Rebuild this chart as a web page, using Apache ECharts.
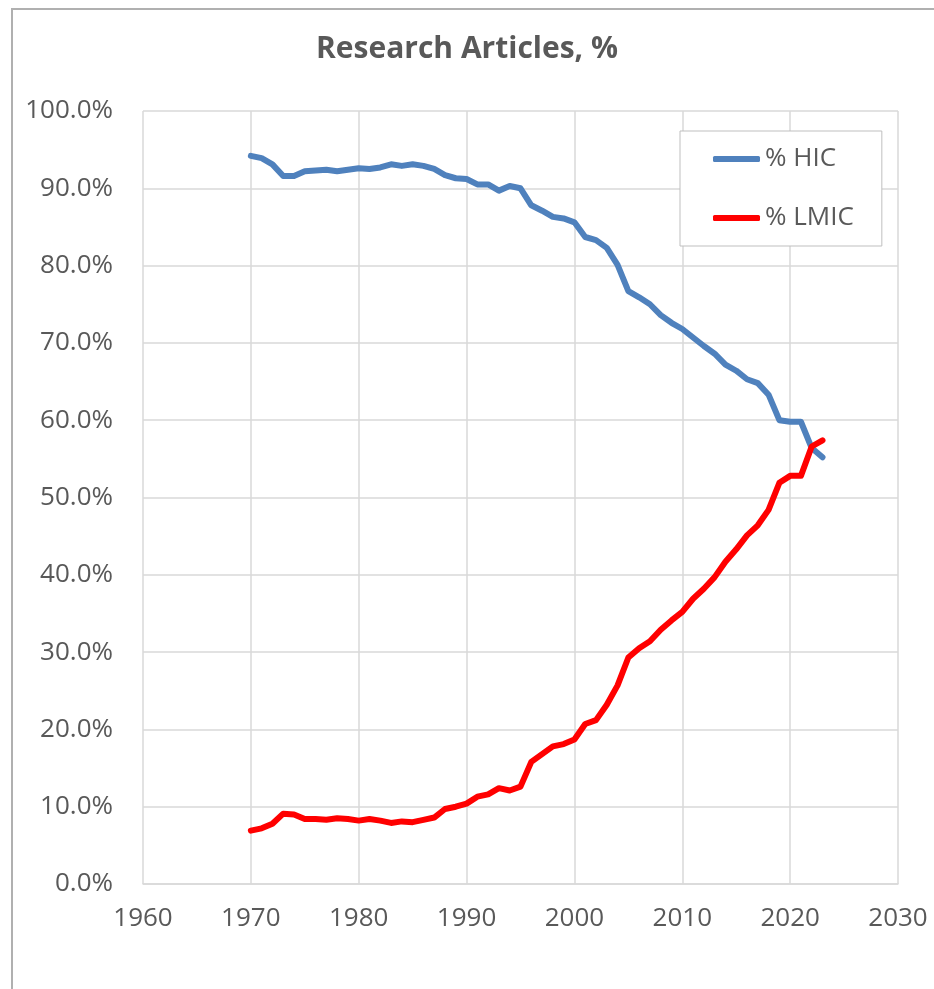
<!DOCTYPE html>
<html>
<head>
<meta charset="utf-8">
<script src="https://cdn.jsdelivr.net/npm/echarts@6/dist/echarts.min.js"></script>
<style>
  html, body { margin: 0; padding: 0; background: #fff; }
  #chart { width: 934px; height: 989px; }
</style>
</head>
<body>
<div id="chart"></div>
<script>
// years 1970..2023
var years = [];
for (var y = 1970; y <= 2023; y++) years.push(y);

// % HIC
var hic = [
  94.2, 93.9, 93.1, 91.6, 91.6, 92.2, 92.3, 92.4, 92.2, 92.4,
  92.6, 92.5, 92.7, 93.1, 92.9, 93.1, 92.9, 92.5, 91.7, 91.3,
  91.2, 90.5, 90.5, 89.7, 90.3, 90.0, 87.8, 87.1, 86.3, 86.1,
  85.6, 83.7, 83.3, 82.3, 80.1, 76.7, 75.9, 75.0, 73.6, 72.6,
  71.8, 70.7, 69.6, 68.6, 67.2, 66.4, 65.3, 64.8, 63.3, 60.0,
  59.8, 59.8, 56.4, 55.2
];

// % LMIC
var lmic = [
  6.9, 7.2, 7.8, 9.1, 9.0, 8.4, 8.4, 8.3, 8.5, 8.4,
  8.2, 8.4, 8.2, 7.9, 8.1, 8.0, 8.3, 8.6, 9.7, 10.0,
  10.4, 11.3, 11.6, 12.4, 12.1, 12.6, 15.8, 16.8, 17.8, 18.1,
  18.7, 20.7, 21.2, 23.2, 25.7, 29.3, 30.5, 31.4, 32.9, 34.1,
  35.2, 36.9, 38.2, 39.7, 41.7, 43.3, 45.1, 46.4, 48.4, 51.9,
  52.8, 52.8, 56.6, 57.4
];

var seriesNames = ['% HIC', '% LMIC'];
var seriesColors = ['#4f81bd', '#ff0000'];

function pairs(vals) {
  return years.map(function(yr, i) { return [yr, vals[i]]; });
}

var textColor = '#595959';
var gridColor = '#d9d9d9';
var font = '"Open Sans", "Noto Sans", sans-serif';

var chart = echarts.init(document.getElementById('chart'), null, { renderer: 'canvas' });

chart.setOption({
  animation: false,
  backgroundColor: '#fff',
  title: {
    text: 'Research Articles, %',
    left: 'center',
    top: 29,
    textStyle: { color: textColor, fontSize: 30, fontWeight: 'bold', fontFamily: font }
  },
  graphic: [{
    type: 'rect',
    silent: true,
    shape: { x: 12, y: 9, width: 1000, height: 1100 },
    style: { fill: 'none', stroke: '#b0b0b0', lineWidth: 2 }
  }],
  legend: {
    orient: 'vertical',
    left: 680,
    top: 131,
    data: seriesNames,
    icon: 'roundRect',
    itemWidth: 47,
    itemHeight: 6,
    itemGap: 29,
    padding: [13, 28, 13, 33],
    borderColor: '#bfbfbf',
    borderWidth: 1,
    backgroundColor: '#fff',
    textStyle: { color: textColor, fontSize: 26, fontFamily: font, lineHeight: 30 }
  },
  grid: { left: 143, right: 36, top: 111, bottom: 105, containLabel: false },
  xAxis: {
    type: 'value',
    min: 1960, max: 2030, interval: 10,
    axisLine: { show: true, lineStyle: { color: gridColor, width: 1.5 } },
    axisTick: { show: false },
    axisLabel: {
      color: textColor, fontSize: 26, fontFamily: font, margin: 22,
      formatter: function(v) { return String(v); }
    },
    splitLine: { show: true, lineStyle: { color: gridColor, width: 1.5 } }
  },
  yAxis: {
    type: 'value',
    min: 0, max: 100, interval: 10,
    axisLine: { show: false },
    axisTick: { show: false },
    axisLabel: {
      color: textColor, fontSize: 26, fontFamily: font, margin: 30,
      formatter: function(v) { return v.toFixed(1) + '%'; }
    },
    splitLine: { show: true, lineStyle: { color: gridColor, width: 1.5 } }
  },
  series: [
    {
      name: seriesNames[0],
      type: 'line',
      data: pairs(hic),
      symbol: 'none',
      lineStyle: { color: seriesColors[0], width: 6, cap: 'round', join: 'round' },
      itemStyle: { color: seriesColors[0] },
      z: 2
    },
    {
      name: seriesNames[1],
      type: 'line',
      data: pairs(lmic),
      symbol: 'none',
      lineStyle: { color: seriesColors[1], width: 6, cap: 'round', join: 'round' },
      itemStyle: { color: seriesColors[1] },
      z: 3
    }
  ]
});
</script>
</body>
</html>
